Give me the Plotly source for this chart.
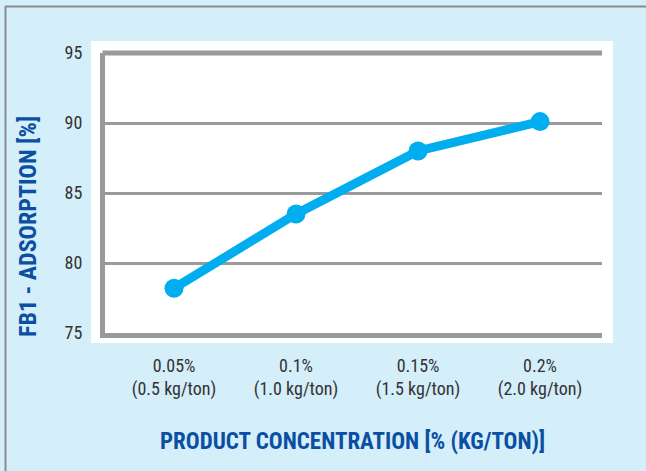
import plotly.graph_objects as go

# Product concentration levels and measured FB1 adsorption
categories = ["0.05%<br>(0.5 kg/ton)", "0.1%<br>(1.0 kg/ton)",
              "0.15%<br>(1.5 kg/ton)", "0.2%<br>(2.0 kg/ton)"]
adsorption = [78.2, 83.5, 88.0, 90.1]
y_ticks = [75, 80, 85, 90, 95]

W, H = 646, 471
L, R, T, B = 105, 602, 53, 333  # plot-area edges in pixels

def px_x(p):
    return (p - L) / (R - L)

def px_y(p):
    return (B - p) / (B - T)

BLUE = "#00AEEF"
DARK_BLUE = "#0B4FA3"
GRAY = "#9A9A9D"
BG = "#D4EEFA"
FONT = "Roboto Condensed, Open Sans Condensed, Roboto, sans-serif"

fig = go.Figure()
fig.add_trace(go.Scatter(
    x=categories, y=adsorption, mode="lines+markers",
    line=dict(color=BLUE, width=9),
    marker=dict(color=BLUE, size=19),
    cliponaxis=False, hoverinfo="skip",
))

fig.update_layout(
    width=W, height=H,
    margin=dict(l=L, r=W - R, t=T, b=H - B, pad=0),
    paper_bgcolor=BG, plot_bgcolor="white",
    showlegend=False,
    font=dict(family=FONT, color="#333333", size=18),
    xaxis=dict(
        type="category", range=[-0.566, 3.508],
        showgrid=False, zeroline=False,
        showline=True, linecolor=GRAY, linewidth=5, mirror=False,
        ticks="", ticklabelstandoff=12,
        tickfont=dict(family=FONT, size=18, color="#333333"),
    ),
    yaxis=dict(
        range=[75, 95], tickvals=y_ticks,
        showgrid=True, gridcolor=GRAY, gridwidth=3,
        zeroline=False,
        showline=True, linecolor=GRAY, linewidth=5, mirror=False,
        ticks="", ticklabelstandoff=14,
        tickfont=dict(family=FONT, size=18, color="#333333"),
    ),
    shapes=[
        # white panel behind the plot frame
        dict(type="rect", xref="paper", yref="paper", layer="below",
             x0=px_x(91), x1=px_x(613), y0=px_y(343), y1=px_y(41),
             fillcolor="white", line=dict(width=0)),
        # thick top edge of the frame
        dict(type="line", xref="paper", yref="paper",
             x0=px_x(L - 2.5), x1=1, y0=1, y1=1,
             line=dict(color=GRAY, width=5)),
        # outer border (top and left edges)
        dict(type="line", xref="paper", yref="paper",
             x0=px_x(5), x1=px_x(W), y0=px_y(6.5), y1=px_y(6.5),
             line=dict(color="#8C8C8C", width=2)),
        dict(type="line", xref="paper", yref="paper",
             x0=px_x(5.5), x1=px_x(5.5), y0=px_y(6), y1=px_y(H),
             line=dict(color="#8C8C8C", width=2)),
    ],
    annotations=[
        dict(text="<b>FB1 - ADSORPTION [%]</b>", textangle=-90,
             xref="paper", yref="paper", x=px_x(28), y=px_y(227),
             xanchor="center", yanchor="middle", showarrow=False,
             font=dict(family=FONT, size=24, color=DARK_BLUE)),
        dict(text="<b>PRODUCT CONCENTRATION [% (KG/TON)]</b>",
             xref="paper", yref="paper", x=px_x(352), y=px_y(441),
             xanchor="center", yanchor="middle", showarrow=False,
             font=dict(family=FONT, size=23, color=DARK_BLUE)),
    ],
)

fig.write_html("out.html")
